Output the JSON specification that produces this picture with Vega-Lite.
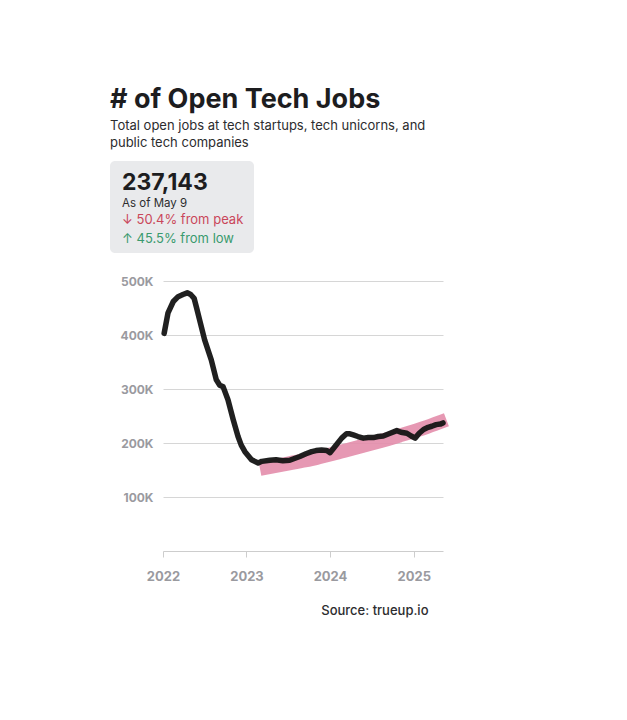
{
  "$schema": "https://vega.github.io/schema/vega-lite/v6.json",
  "background": "white",
  "padding": {"left": 110, "top": 85, "right": 20, "bottom": 20},
  "config": {
    "font": "Inter",
    "view": {"stroke": null}
  },
  "title": {
    "text": "# of Open Tech Jobs",
    "subtitle": ["Total open jobs at tech startups, tech unicorns, and", "public tech companies"],
    "anchor": "start",
    "font": "Inter",
    "fontSize": 27,
    "fontWeight": 700,
    "color": "#1d1d1f",
    "subtitleFont": "Inter",
    "subtitleFontSize": 13,
    "subtitleColor": "#2c2c2e",
    "subtitleLineHeight": 17.5,
    "subtitlePadding": 6,
    "offset": 10
  },
  "spacing": 22,
  "vconcat": [
    {
      "width": 91,
      "height": 92,
      "encoding": {
        "x": {"datum": 0, "type": "quantitative", "scale": {"domain": [0, 1], "range": [-53, 91]}, "axis": null}
      },
      "layer": [
        {
          "data": {"values": [{"panel": "summary"}]},
          "mark": {"type": "rect", "fill": "#e9eaec", "cornerRadius": 5},
          "encoding": {
            "x2": {"datum": 1}
          }
        },
        {
          "data": {
            "values": [
              {"key": "value", "label": "237,143"},
              {"key": "date", "label": "As of May 9"},
              {"key": "peak", "label": "↓ 50.4% from peak"},
              {"key": "low", "label": "↑ 45.5% from low"}
            ]
          },
          "encoding": {
            "y": {
              "field": "key",
              "type": "ordinal",
              "scale": {"type": "point", "domain": ["value", "date", "peak", "low"], "range": [22, 77], "padding": 0},
              "axis": null
            },
            "text": {"field": "label"}
          },
          "layer": [
            {
              "transform": [{"filter": "datum.key === 'value'"}],
              "mark": {"type": "text", "align": "left", "baseline": "middle", "dx": 12, "fontSize": 23, "fontWeight": 700, "fill": "#1d1d1f"}
            },
            {
              "transform": [{"filter": "datum.key === 'date'"}],
              "mark": {"type": "text", "align": "left", "baseline": "middle", "dx": 12, "dy": 2.5, "fontSize": 11.5, "fill": "#2c2c2e"}
            },
            {
              "transform": [{"filter": "datum.key === 'peak' || datum.key === 'low'"}],
              "mark": {"type": "text", "align": "left", "baseline": "middle", "dx": 12, "dy": 0.5, "fontSize": 13},
              "encoding": {
                "color": {
                  "field": "key",
                  "type": "nominal",
                  "scale": {"domain": ["peak", "low"], "range": ["#c9475a", "#3a9a6e"]},
                  "legend": null
                }
              }
            }
          ]
        }
      ]
    },
    {
      "width": 280,
      "height": 270,
      "encoding": {
        "x": {
          "field": "date",
          "type": "temporal",
          "scale": {"domain": [{"year": 2022, "month": 1, "date": 1}, {"year": 2025, "month": 5, "date": 9}]},
          "axis": {
            "title": "Source: trueup.io",
            "values": [{"year": 2022}, {"year": 2023}, {"year": 2024}, {"year": 2025}],
            "format": "%Y",
            "grid": false,
            "domain": true,
            "domainColor": "#cdcdcd",
            "ticks": true,
            "tickColor": "#cdcdcd",
            "tickSize": 6,
            "labelFlush": false,
            "labelPadding": 13,
            "labelFont": "Inter",
            "labelFontSize": 13,
            "labelFontWeight": 700,
            "labelColor": "#9a9a9f",
            "titleAnchor": "end",
            "titleAlign": "right",
            "titleX": 265,
            "titleY": 63,
            "titleBaseline": "alphabetic",
            "titleFont": "Inter",
            "titleFontSize": 13,
            "titleFontWeight": 500,
            "titleColor": "#2c2c2e"
          }
        },
        "y": {
          "field": "jobs",
          "type": "quantitative",
          "scale": {"domain": [0, 500000], "nice": false},
          "axis": {
            "title": null,
            "values": [100000, 200000, 300000, 400000, 500000],
            "labelExpr": "format(datum.value / 1000, 'd') + 'K'",
            "domain": false,
            "ticks": false,
            "grid": true,
            "gridColor": "#d6d6d6",
            "gridWidth": 1,
            "labelPadding": 10,
            "labelFont": "Inter",
            "labelFontSize": 12,
            "labelFontWeight": 700,
            "labelColor": "#9a9a9f",
            "minExtent": 53,
            "maxExtent": 53
          }
        }
      },
      "layer": [
        {
          "data": {
            "values": [
              {"date": "2023-03-01", "jobs": 152000},
              {"date": "2023-07-01", "jobs": 162000},
              {"date": "2023-11-01", "jobs": 172000},
              {"date": "2024-03-01", "jobs": 185000},
              {"date": "2024-07-01", "jobs": 199000},
              {"date": "2024-11-01", "jobs": 214000},
              {"date": "2025-03-01", "jobs": 230000},
              {"date": "2025-05-24", "jobs": 243000}
            ]
          },
          "mark": {"type": "line", "color": "#e38dab", "strokeWidth": 14, "strokeCap": "butt", "opacity": 0.9, "interpolate": "monotone"}
        },
        {
          "data": {
            "values": [
              {"date": "2022-01-06", "jobs": 403000},
              {"date": "2022-01-23", "jobs": 441000},
              {"date": "2022-02-15", "jobs": 462000},
              {"date": "2022-03-08", "jobs": 471000},
              {"date": "2022-03-29", "jobs": 475000},
              {"date": "2022-04-17", "jobs": 478100},
              {"date": "2022-05-02", "jobs": 475000},
              {"date": "2022-05-17", "jobs": 468000},
              {"date": "2022-05-28", "jobs": 450000},
              {"date": "2022-06-10", "jobs": 428000},
              {"date": "2022-07-02", "jobs": 391000},
              {"date": "2022-07-31", "jobs": 354000},
              {"date": "2022-08-22", "jobs": 317000},
              {"date": "2022-09-06", "jobs": 307000},
              {"date": "2022-09-21", "jobs": 304000},
              {"date": "2022-10-12", "jobs": 280000},
              {"date": "2022-11-04", "jobs": 243000},
              {"date": "2022-11-25", "jobs": 212000},
              {"date": "2022-12-09", "jobs": 196000},
              {"date": "2022-12-25", "jobs": 184000},
              {"date": "2023-01-23", "jobs": 169000},
              {"date": "2023-02-21", "jobs": 163000},
              {"date": "2023-03-09", "jobs": 166000},
              {"date": "2023-04-13", "jobs": 168000},
              {"date": "2023-05-10", "jobs": 169000},
              {"date": "2023-06-09", "jobs": 167000},
              {"date": "2023-07-09", "jobs": 168000},
              {"date": "2023-08-22", "jobs": 175000},
              {"date": "2023-09-18", "jobs": 180000},
              {"date": "2023-10-13", "jobs": 184000},
              {"date": "2023-11-01", "jobs": 186000},
              {"date": "2023-11-25", "jobs": 187000},
              {"date": "2023-12-18", "jobs": 186000},
              {"date": "2024-01-01", "jobs": 182000},
              {"date": "2024-01-22", "jobs": 193000},
              {"date": "2024-02-21", "jobs": 209000},
              {"date": "2024-03-13", "jobs": 217000},
              {"date": "2024-03-28", "jobs": 217000},
              {"date": "2024-04-12", "jobs": 215000},
              {"date": "2024-05-02", "jobs": 212000},
              {"date": "2024-05-26", "jobs": 209000},
              {"date": "2024-06-16", "jobs": 210000},
              {"date": "2024-07-09", "jobs": 210000},
              {"date": "2024-07-30", "jobs": 212000},
              {"date": "2024-08-21", "jobs": 213000},
              {"date": "2024-09-20", "jobs": 218000},
              {"date": "2024-10-19", "jobs": 223000},
              {"date": "2024-11-06", "jobs": 220000},
              {"date": "2024-12-02", "jobs": 218000},
              {"date": "2024-12-21", "jobs": 213000},
              {"date": "2025-01-07", "jobs": 209000},
              {"date": "2025-01-25", "jobs": 218000},
              {"date": "2025-02-13", "jobs": 225000},
              {"date": "2025-03-05", "jobs": 229000},
              {"date": "2025-03-21", "jobs": 231000},
              {"date": "2025-04-09", "jobs": 234000},
              {"date": "2025-04-27", "jobs": 235000},
              {"date": "2025-05-09", "jobs": 237143}
            ]
          },
          "mark": {"type": "line", "color": "#141414", "strokeWidth": 5.5, "strokeJoin": "round", "strokeCap": "round", "opacity": 0.95}
        }
      ]
    }
  ]
}
